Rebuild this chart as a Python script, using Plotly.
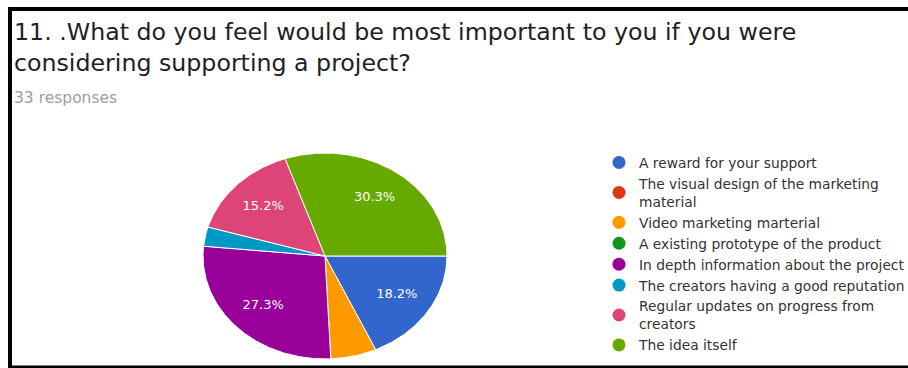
import numpy as np
import plotly.graph_objects as go

# Survey question 11 - 33 responses
title_lines = [
    "11. .What do you feel would be most important to you if you were",
    "considering supporting a project?",
]
subtitle = "33 responses"

categories = [
    "A reward for your support",
    "The visual design of the marketing<br>material",
    "Video marketing marterial",
    "A existing prototype of the product",
    "In depth information about the project",
    "The creators having a good reputation",
    "Regular updates on progress from<br>creators",
    "The idea itself",
]
counts = [6, 0, 2, 0, 9, 1, 5, 10]
colors = ["#3366cc", "#dc3912", "#ff9900", "#109618",
          "#990099", "#0099c6", "#dd4477", "#66aa00"]

W, H = 908, 368
FONT = "DejaVu Sans, Verdana, sans-serif"

# pie box in pixels (drawn slightly wider than tall)
PIE_L, PIE_R, PIE_T, PIE_B = 203, 447, 153, 359

fig = go.Figure()

total = sum(counts)
start = 90.0  # degrees clockwise from 12 o'clock (first slice starts at 3 o'clock)
label_x, label_y, label_t = [], [], []
for name, v, c in zip(categories, counts, colors):
    if v <= 0:
        continue
    span = 360.0 * v / total
    th = np.radians(np.linspace(start, start + span, max(int(span * 2), 4)))
    xs = np.concatenate([[0.0], np.sin(th), [0.0]])
    ys = np.concatenate([[0.0], np.cos(th), [0.0]])
    fig.add_trace(go.Scatter(
        x=xs, y=ys, mode="lines", fill="toself", fillcolor=c,
        line=dict(color="white", width=1), showlegend=False,
        hoverinfo="skip",
    ))
    frac = v / total
    if frac >= 0.1:
        mid = np.radians(start + span / 2)
        label_x.append(0.7 * np.sin(mid))
        label_y.append(0.7 * np.cos(mid))
        label_t.append(f"{100 * frac:.1f}%")
    start += span

fig.add_trace(go.Scatter(
    x=label_x, y=label_y, text=label_t, mode="text",
    textfont=dict(family=FONT, size=13, color="white"),
    showlegend=False, hoverinfo="skip",
))

# legend entries (every answer option, including the unchosen ones)
for name, c in zip(categories, colors):
    fig.add_trace(go.Scatter(
        x=[None], y=[None], mode="markers", name=name,
        marker=dict(symbol="circle", size=13, color=c),
    ))

fig.add_annotation(
    x=12 / W, y=1 - 16 / H, xref="paper", yref="paper",
    xanchor="left", yanchor="top", align="left", showarrow=False,
    text="<br>".join(title_lines),
    font=dict(family=FONT, size=23.7, color="#212121"),
)
fig.add_annotation(
    x=12 / W, y=1 - 87 / H, xref="paper", yref="paper",
    xanchor="left", yanchor="top", align="left", showarrow=False,
    text=subtitle, font=dict(family=FONT, size=15.5, color="#9e9e9e"),
)

# black frame around the card (open on the right)
frame = dict(color="black")
fig.add_shape(type="line", xref="paper", yref="paper",
              x0=8 / W, x1=1.01, y0=1 - 9 / H, y1=1 - 9 / H,
              line=dict(width=4, **frame))
fig.add_shape(type="line", xref="paper", yref="paper",
              x0=10 / W, x1=10 / W, y0=1 - 7 / H, y1=1 - 368 / H,
              line=dict(width=4, **frame))
fig.add_shape(type="line", xref="paper", yref="paper",
              x0=8 / W, x1=1.01, y0=1 - 367 / H, y1=1 - 367 / H,
              line=dict(width=3, **frame))

fig.update_layout(
    width=W, height=H,
    margin=dict(l=0, r=0, t=0, b=0, autoexpand=False),
    paper_bgcolor="white", plot_bgcolor="white",
    xaxis=dict(domain=[PIE_L / W, PIE_R / W], range=[-1.0, 1.0],
               visible=False, fixedrange=True),
    yaxis=dict(domain=[1 - PIE_B / H, 1 - PIE_T / H], range=[-1.0, 1.0],
               visible=False, fixedrange=True),
    legend=dict(
        x=599 / W, y=1 - 147 / H, xanchor="left", yanchor="top",
        font=dict(family=FONT, size=13.8, color="#333333"),
        bgcolor="rgba(0,0,0,0)", tracegroupgap=0,
        itemclick=False, itemdoubleclick=False,
    ),
    showlegend=True,
)

fig.write_html("out.html")
